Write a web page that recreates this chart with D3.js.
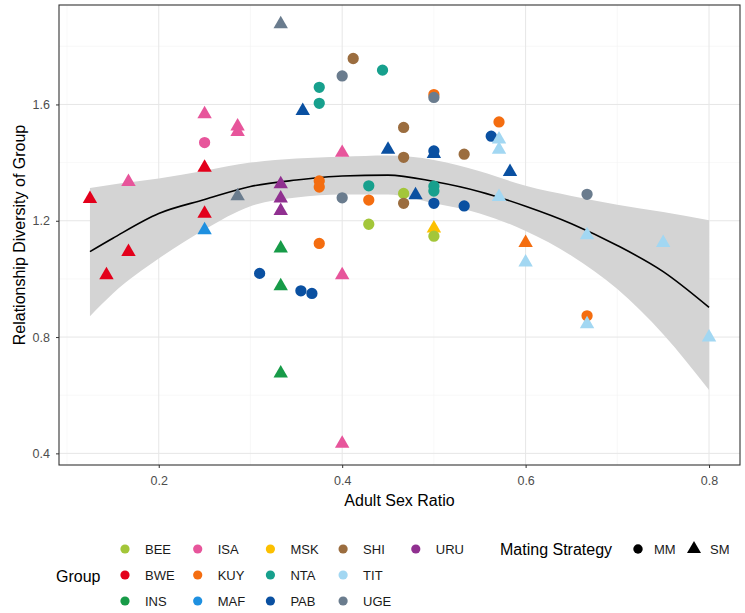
<!DOCTYPE html>
<html>
<head>
<meta charset="utf-8">
<script src="https://cdn.jsdelivr.net/npm/d3@7"></script>
<style>
  body { margin: 0; background: #fff; }
  text { font-family: "Liberation Sans", Arial, sans-serif; }
</style>
</head>
<body>
<svg id="chart"></svg>
<script>
// groups and their colours (legend order)
const groups = ["BEE", "BWE", "INS", "ISA", "KUY", "MAF", "MSK", "NTA", "PAB", "SHI", "TIT", "UGE", "URU"];
const groupColors = ["#a3c639", "#e3001b", "#179b48", "#e7559b", "#f46d10", "#1e90e0", "#fcc000",
                     "#17a08d", "#0a50a1", "#9b6d3f", "#a2d7f2", "#6a7c8e", "#903090"];
const strategies = ["MM", "SM"];

// one entry per group observation (drawing order kept as in the picture)
const pointGroup = [
  "BWE", "BWE", "BWE", "BWE", "BWE",
  "ISA", "ISA", "ISA", "ISA", "ISA", "ISA", "ISA", "ISA",
  "MAF",
  "URU", "URU", "URU",
  "INS", "INS", "INS",
  "KUY", "KUY", "KUY", "KUY", "KUY", "KUY", "KUY", "KUY",
  "MSK",
  "BEE", "BEE", "BEE",
  "SHI", "SHI", "SHI", "SHI", "SHI",
  "NTA", "NTA", "NTA", "NTA", "NTA", "NTA",
  "PAB", "PAB", "PAB", "PAB", "PAB", "PAB", "PAB", "PAB", "PAB", "PAB", "PAB", "PAB",
  "UGE", "UGE", "UGE", "UGE", "UGE", "UGE",
  "TIT", "TIT", "TIT", "TIT", "TIT", "TIT", "TIT", "TIT"
];
const pointStrategy = [
  "SM", "SM", "SM", "SM", "SM",
  "SM", "MM", "SM", "SM", "SM", "SM", "SM", "SM",
  "SM",
  "SM", "SM", "SM",
  "SM", "SM", "SM",
  "MM", "MM", "MM", "MM", "MM", "MM", "SM", "MM",
  "SM",
  "MM", "MM", "MM",
  "MM", "MM", "MM", "MM", "MM",
  "MM", "MM", "MM", "MM", "MM", "MM",
  "MM", "MM", "MM", "SM", "SM", "SM", "MM", "SM", "MM", "MM", "MM", "SM",
  "SM", "SM", "MM", "MM", "MM", "MM",
  "SM", "SM", "SM", "SM", "SM", "SM", "SM", "SM"
];
const sexRatio = [
  0.125, 0.143, 0.167, 0.25, 0.25,
  0.25, 0.25, 0.286, 0.286, 0.167, 0.4, 0.4, 0.4,
  0.25,
  0.333, 0.333, 0.333,
  0.333, 0.333, 0.333,
  0.375, 0.375, 0.375, 0.429, 0.5, 0.571, 0.6, 0.667,
  0.5,
  0.429, 0.467, 0.5,
  0.412, 0.467, 0.467, 0.533, 0.467,
  0.375, 0.375, 0.444, 0.429, 0.5, 0.5,
  0.31, 0.355, 0.367, 0.357, 0.45, 0.5, 0.5, 0.48, 0.5, 0.533, 0.5625, 0.583,
  0.333, 0.286, 0.4, 0.4, 0.5, 0.667,
  0.571, 0.571, 0.571, 0.6, 0.667, 0.667, 0.75, 0.8
];
const diversity = [
  1.275, 1.013, 1.093, 1.383, 1.225,
  1.567, 1.469, 1.525, 1.506, 1.334, 1.434, 1.013, 0.434,
  1.168,
  1.326, 1.277, 1.234,
  1.105, 0.975, 0.675,
  1.337, 1.316, 1.122, 1.271, 1.634, 1.540, 1.124, 0.873,
  1.174,
  1.188, 1.294, 1.147,
  1.758, 1.521, 1.418, 1.429, 1.260,
  1.659, 1.604, 1.718, 1.320, 1.319, 1.302,
  1.019, 0.959, 0.950, 1.578, 1.445, 1.430, 1.440, 1.288, 1.260, 1.251, 1.491, 1.368,
  1.876, 1.285, 1.698, 1.279, 1.624, 1.291,
  1.480, 1.445, 1.282, 1.057, 1.151, 0.845, 1.124, 0.799
];

// smoother and its confidence band
const fitRatio = [0.125, 0.15, 0.2, 0.25, 0.3, 0.35, 0.4, 0.45, 0.5, 0.55, 0.6, 0.65, 0.7, 0.75, 0.8];
const fitValue = [1.094, 1.14, 1.225, 1.273, 1.318, 1.340, 1.354, 1.357, 1.335, 1.30, 1.25, 1.19, 1.115, 1.025, 0.902];
const fitLower = [0.872, 0.95, 1.07, 1.17, 1.25, 1.28, 1.29, 1.29, 1.26, 1.225, 1.165, 1.08, 0.965, 0.81, 0.618];
const fitUpper = [1.313, 1.325, 1.345, 1.372, 1.40, 1.414, 1.42, 1.424, 1.409, 1.37, 1.32, 1.285, 1.255, 1.23, 1.202];

const xTicks = [0.2, 0.4, 0.6, 0.8];
const xMinor = [0.1, 0.3, 0.5, 0.7];
const yTicks = [0.4, 0.8, 1.2, 1.6];
const yMinor = [0.6, 1.0, 1.4, 1.8];

// chart dimensions
const width = 745;
const height = 613;
const panelLeft = 59;
const panelRight = 740;
const panelTop = 5;
const panelBottom = 465;

const data = sexRatio.map((v, i) => ({
  x: v, y: diversity[i], group: pointGroup[i], strategy: pointStrategy[i]
}));
const band = fitRatio.map((v, i) => ({ x: v, y: fitValue[i], lo: fitLower[i], hi: fitUpper[i] }));

// ggplot-like 5% expansion
function expand(ext) {
  const pad = (ext[1] - ext[0]) * 0.05;
  return [ext[0] - pad, ext[1] + pad];
}

const x = d3.scaleLinear()
    .domain(expand(d3.extent(sexRatio)))
    .range([panelLeft, panelRight]);
const y = d3.scaleLinear()
    .domain([0.36, 1.942])
    .range([panelBottom, panelTop]);
const color = d3.scaleOrdinal().domain(groups).range(groupColors);
const shape = d3.scaleOrdinal().domain(strategies).range([d3.symbolCircle, d3.symbolTriangle]);
const shapeSize = d3.scaleOrdinal().domain(strategies).range([100, 90]);

const svg = d3.select("#chart")
    .attr("width", width)
    .attr("height", height)
    .style("background", "#fff");

// grid
const grid = svg.append("g");
grid.selectAll(".xminor").data(xMinor).join("line")
    .attr("x1", d => x(d)).attr("x2", d => x(d))
    .attr("y1", panelTop).attr("y2", panelBottom)
    .attr("stroke", "#f3f3f3").attr("stroke-width", 0.6);
grid.selectAll(".yminor").data(yMinor).join("line")
    .attr("y1", d => y(d)).attr("y2", d => y(d))
    .attr("x1", panelLeft).attr("x2", panelRight)
    .attr("stroke", "#f3f3f3").attr("stroke-width", 0.6);
grid.selectAll(".xmajor").data(xTicks).join("line")
    .attr("x1", d => x(d)).attr("x2", d => x(d))
    .attr("y1", panelTop).attr("y2", panelBottom)
    .attr("stroke", "#e6e6e6").attr("stroke-width", 1);
grid.selectAll(".ymajor").data(yTicks).join("line")
    .attr("y1", d => y(d)).attr("y2", d => y(d))
    .attr("x1", panelLeft).attr("x2", panelRight)
    .attr("stroke", "#e6e6e6").attr("stroke-width", 1);

// smoother
svg.append("path")
    .datum(band)
    .attr("fill", "#d4d4d4")
    .attr("d", d3.area().curve(d3.curveMonotoneX)
      .x(d => x(d.x)).y0(d => y(d.lo)).y1(d => y(d.hi)));
svg.append("path")
    .datum(band)
    .attr("fill", "none")
    .attr("stroke", "#000")
    .attr("stroke-width", 1.6)
    .attr("d", d3.line().curve(d3.curveMonotoneX).x(d => x(d.x)).y(d => y(d.y)));

// points
svg.append("g")
    .selectAll("path")
    .data(data)
    .join("path")
    .attr("transform", d => `translate(${x(d.x)},${y(d.y)})`)
    .attr("d", d => d3.symbol(shape(d.strategy), shapeSize(d.strategy))())
    .attr("fill", d => color(d.group));

// panel border
svg.append("rect")
    .attr("x", panelLeft).attr("y", panelTop)
    .attr("width", panelRight - panelLeft).attr("height", panelBottom - panelTop)
    .attr("fill", "none").attr("stroke", "#333").attr("stroke-width", 1.1);

// axes
const xAxis = svg.append("g")
    .attr("transform", `translate(0,${panelBottom})`)
    .call(d3.axisBottom(x).tickValues(xTicks).tickSize(3).tickPadding(8).tickFormat(d3.format(".1f")));
const yAxis = svg.append("g")
    .attr("transform", `translate(${panelLeft},0)`)
    .call(d3.axisLeft(y).tickValues(yTicks).tickSize(3).tickPadding(6).tickFormat(d3.format(".1f")));
[xAxis, yAxis].forEach(a => {
  a.select(".domain").remove();
  a.selectAll(".tick line").attr("stroke", "#333");
  a.selectAll(".tick text").attr("fill", "#4d4d4d")
      .style("font-size", "12.5px").style("font-family", "'Liberation Sans', Arial, sans-serif");
});

// axis titles
svg.append("text")
    .attr("x", (panelLeft + panelRight) / 2).attr("y", 506)
    .attr("text-anchor", "middle").style("font-size", "16px")
    .text("Adult Sex Ratio");
svg.append("text")
    .attr("transform", `translate(25,${(panelTop + panelBottom) / 2}) rotate(-90)`)
    .attr("text-anchor", "middle").style("font-size", "16px")
    .text("Relationship Diversity of Group");

// group legend (3 rows, filled by column)
svg.append("text")
    .attr("x", 56).attr("y", 581.5)
    .style("font-size", "16px")
    .text("Group");
const legend = svg.append("g");
const items = legend.selectAll("g")
    .data(groups)
    .join("g")
    .attr("transform", (d, i) => `translate(${125 + Math.floor(i / 3) * 72.7},${549 + (i % 3) * 26})`);
items.append("circle")
    .attr("r", 4.6)
    .attr("fill", d => color(d));
items.append("text")
    .attr("x", 20).attr("y", 4.8)
    .style("font-size", "13px")
    .attr("fill", "#1a1a1a")
    .text(d => d);

// mating strategy legend
svg.append("text")
    .attr("x", 500).attr("y", 554.5)
    .style("font-size", "16px")
    .text("Mating Strategy");
const shapeLegend = svg.append("g")
    .selectAll("g")
    .data(strategies)
    .join("g")
    .attr("transform", (d, i) => `translate(${638 + i * 56},549)`);
shapeLegend.append("path")
    .attr("d", d => d3.symbol(shape(d), d === "MM" ? 70 : 85)())
    .attr("fill", "#000");
shapeLegend.append("text")
    .attr("x", 16).attr("y", 4.8)
    .style("font-size", "13px")
    .attr("fill", "#1a1a1a")
    .text(d => d);
</script>
</body>
</html>
